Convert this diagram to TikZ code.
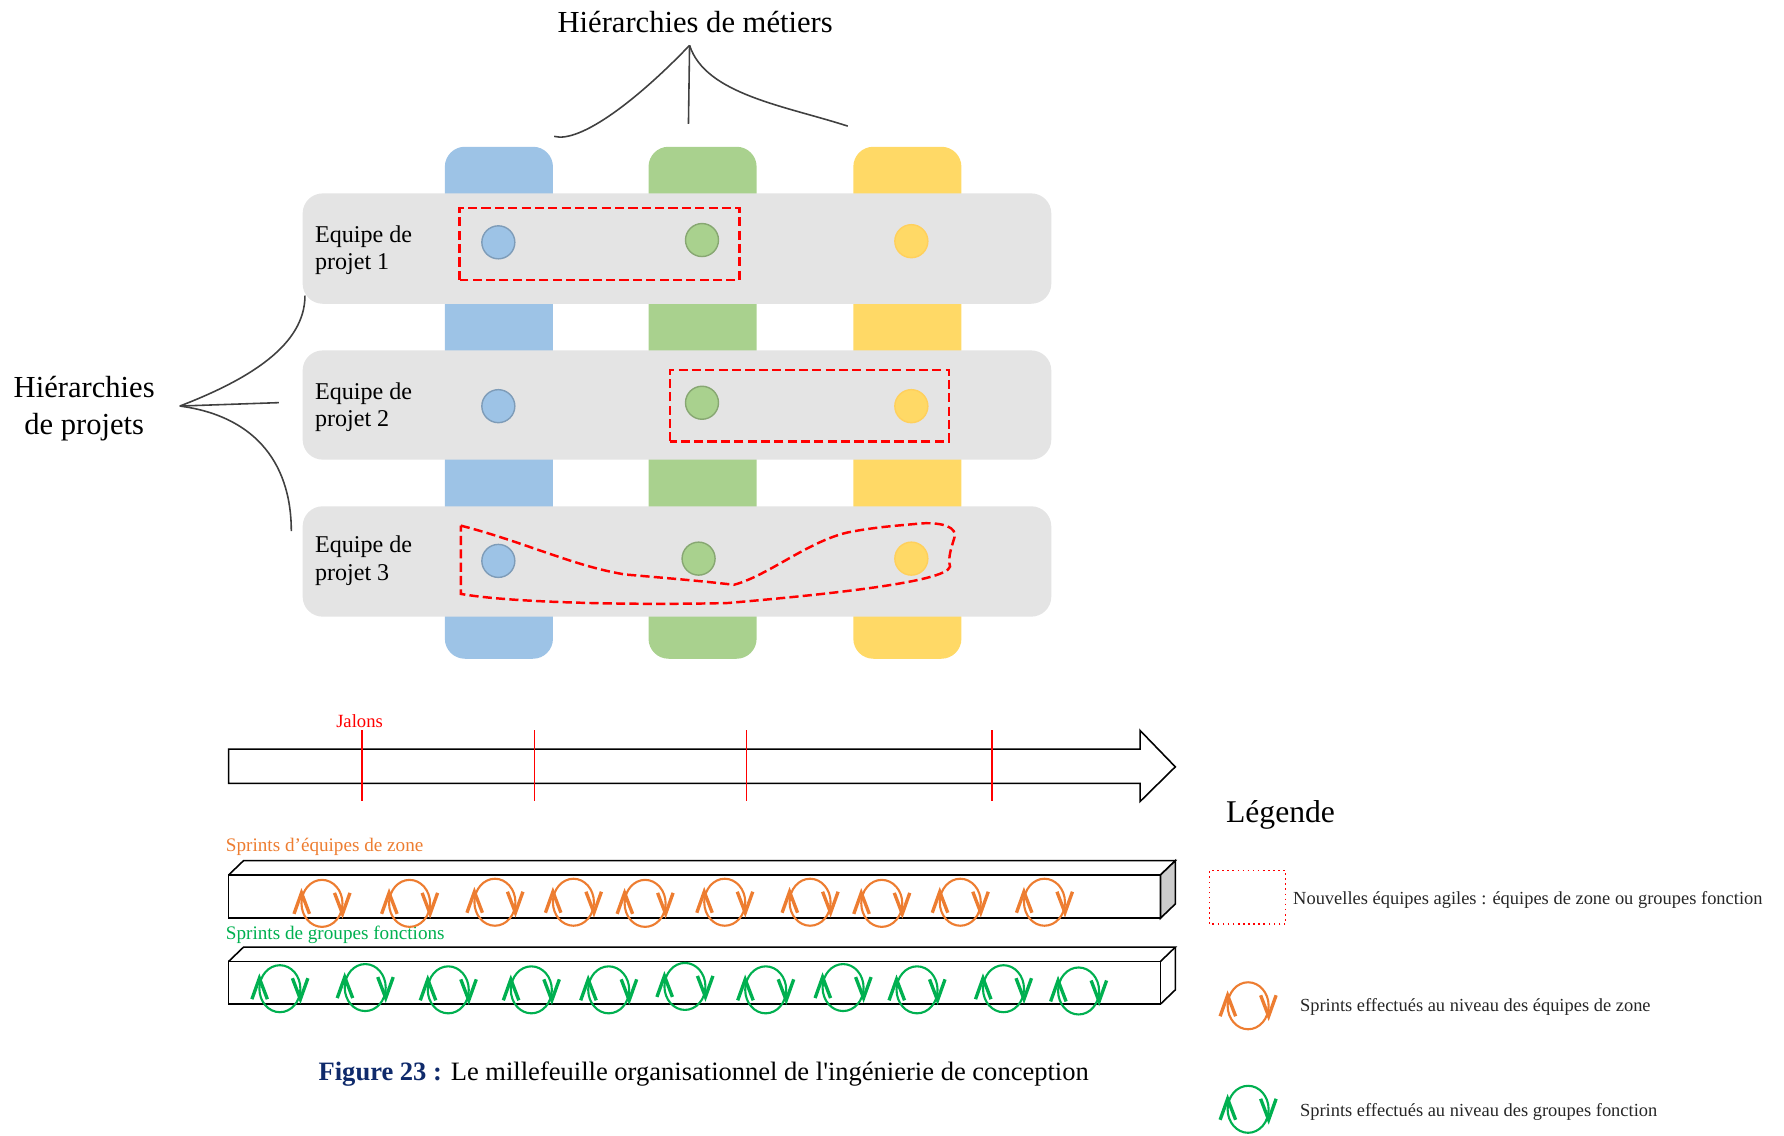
\documentclass[tikz,border=0pt]{standalone}
\usepackage{fontspec}
\setmainfont{Liberation Serif}
\definecolor{colblue}{HTML}{9DC3E6}
\definecolor{colgreen}{HTML}{A9D18E}
\definecolor{colyellow}{HTML}{FFD966}
\definecolor{rowgray}{HTML}{E4E4E4}
\definecolor{sprintorange}{HTML}{ED7D31}
\definecolor{sprintgreen}{HTML}{00B050}
\definecolor{captionblue}{HTML}{0F2A6B}
\tikzset{
  column/.style = {rounded corners = 0.2cm},
  rowband/.style = {fill = rowgray, rounded corners = 0.2cm},
  roundel/.style = {circle, draw, line width = 0.4pt, minimum size = 0.33cm, inner sep = 0pt},
  agile/.style = {red, line width = 0.7pt, dash pattern = on 2.6pt off 1.2pt},
  brace/.style = {black!75, line width = 0.45pt},
  block/.style = {black, line width = 0.45pt},
  rowlabel/.style = {right, align = left, font = \fontsize{6.85}{7.9}\selectfont},
  sprint/.pic = {
    \draw[line width = 0.6pt] (0, 0) ellipse (0.205 and 0.235);
    \draw[line width = 0.95pt] (-0.28, -0.105) -- (-0.205, 0.105) -- (-0.125, -0.105);
    \draw[line width = 0.95pt] (0.125, 0.105) -- (0.205, -0.105) -- (0.28, 0.105);
  }
}
\begin{document}
\begin{tikzpicture} [scale = 1.1378]
\useasboundingbox (0, 0) rectangle (15.68, 9.98);
% columns
\fill[column, colblue] (3.91, 4.19) rectangle (4.86, 8.69);
\fill[column, colgreen] (5.70, 4.19) rectangle (6.65, 8.69);
\fill[column, colyellow] (7.50, 4.19) rectangle (8.45, 8.69);
% rows
\fill[rowband] (2.66, 7.31) rectangle (9.24, 8.28);
\fill[rowband] (2.66, 5.94) rectangle (9.24, 6.90);
\fill[rowband] (2.66, 4.56) rectangle (9.24, 5.53);
\node[rowlabel] (row1) at (2.66, 7.78){Equipe de\\projet 1};
\node[rowlabel] (row2) at (2.66, 6.40){Equipe de\\projet 2};
\node[rowlabel] (row3) at (2.66, 5.05){Equipe de\\projet 3};
\node[roundel, draw = colblue!80!black, fill = colblue] (blue1) at (4.38, 7.85){};
\node[roundel, draw = colgreen!80!black, fill = colgreen] (green1) at (6.17, 7.87){};
\node[roundel, draw = colyellow!90!orange, fill = colyellow] (yellow1) at (8.01, 7.86){};
\node[roundel, draw = colblue!80!black, fill = colblue] (blue2) at (4.38, 6.41){};
\node[roundel, draw = colgreen!80!black, fill = colgreen] (green2) at (6.17, 6.44){};
\node[roundel, draw = colyellow!90!orange, fill = colyellow] (yellow2) at (8.01, 6.41){};
\node[roundel, draw = colblue!80!black, fill = colblue] (blue3) at (4.38, 5.05){};
\node[roundel, draw = colgreen!80!black, fill = colgreen] (green3) at (6.14, 5.07){};
\node[roundel, draw = colyellow!90!orange, fill = colyellow] (yellow3) at (8.01, 5.07){};
% new agile teams
\draw[agile] (4.04, 7.52) rectangle (6.50, 8.15);
\draw[agile] (5.89, 6.10) rectangle (8.34, 6.73);
\draw[agile] (4.05, 5.36) .. controls (4.60, 5.22) and (5.05, 5.00) .. (5.50, 4.93) .. controls (5.85, 4.90) and (6.20, 4.87) .. (6.45, 4.84) .. controls (6.75, 4.92) and (7.10, 5.22) .. (7.45, 5.30) .. controls (7.70, 5.35) and (7.90, 5.36) .. (8.10, 5.38) .. controls (8.30, 5.39) and (8.41, 5.34) .. (8.39, 5.26) .. controls (8.36, 5.16) and (8.33, 5.08) .. (8.35, 5.00) .. controls (8.32, 4.86) and (7.20, 4.75) .. (6.40, 4.68) .. controls (5.60, 4.66) and (4.50, 4.68) .. (4.05, 4.76) -- cycle;
% hierarchies
\node (metiers) at (6.11, 9.79){\fontsize{8.7}{8.7}\selectfont Hiérarchies de métiers};
\coordinate (hubtop) at (6.06, 9.58);
\coordinate (topleft) at (4.87, 8.78);
\coordinate (topmid) at (6.05, 8.89);
\coordinate (topright) at (7.45, 8.87);
\draw[brace] (hubtop) .. controls (5.60, 9.10) and (5.10, 8.72) .. (topleft);
\draw[brace] (hubtop) -- (topmid);
\draw[brace] (hubtop) .. controls (6.20, 9.15) and (6.90, 9.05) .. (topright);
\node[align = center, font = \fontsize{8.7}{10.4}\selectfont] (projets) at (0.74, 6.39){Hiérarchies\\de projets};
\coordinate (hubleft) at (1.58, 6.41);
\coordinate (leftup) at (2.68, 7.38);
\coordinate (leftmid) at (2.45, 6.44);
\coordinate (leftdown) at (2.56, 5.31);
\draw[brace] (hubleft) .. controls (2.20, 6.65) and (2.68, 6.95) .. (leftup);
\draw[brace] (hubleft) -- (leftmid);
\draw[brace] (hubleft) .. controls (2.20, 6.33) and (2.56, 5.95) .. (leftdown);
% milestones
\node[red, font = \fontsize{5.3}{5.3}\selectfont] (jalons) at (3.16, 3.64){Jalons};
\draw[block] (2.01, 3.095) -- (2.01, 3.395) -- (10.02, 3.395) -- (10.02, 3.56) -- (10.33, 3.24) -- (10.02, 2.935) -- (10.02, 3.095) -- cycle;
\draw[red, line width = 0.4pt] (3.18, 2.94) -- (3.18, 3.56);
\draw[red, line width = 0.4pt] (4.70, 2.94) -- (4.70, 3.56);
\draw[red, line width = 0.4pt] (6.56, 2.94) -- (6.56, 3.56);
\draw[red, line width = 0.4pt] (8.72, 2.94) -- (8.72, 3.56);
% sprint blocks
\node[sprintorange, right, inner sep = 0pt, font = \fontsize{5.45}{5.45}\selectfont] (zone) at (1.98, 2.54){Sprints d’équipes de zone};
\draw[block] (2.01, 1.91) rectangle (10.20, 2.29);
\draw[block] (2.01, 2.29) -- (2.14, 2.415) -- (10.33, 2.415) -- (10.20, 2.29);
\draw[block, fill = black!20] (10.20, 1.91) -- (10.33, 2.035) -- (10.33, 2.415) -- (10.20, 2.29) -- cycle;
\node[sprintgreen, right, inner sep = 0pt, font = \fontsize{5.45}{5.45}\selectfont] (groupes) at (1.98, 1.76){Sprints de groupes fonctions};
\draw[block] (2.01, 1.155) rectangle (10.20, 1.53);
\draw[block] (2.01, 1.53) -- (2.14, 1.655) -- (10.33, 1.655) -- (10.20, 1.53);
\draw[block] (10.20, 1.155) -- (10.33, 1.28) -- (10.33, 1.655);
\pic[sprintorange] at (2.83, 2.04) {sprint};
\pic[sprintorange] at (3.60, 2.04) {sprint};
\pic[sprintorange] at (4.35, 2.05) {sprint};
\pic[sprintorange] at (5.04, 2.05) {sprint};
\pic[sprintorange] at (5.67, 2.04) {sprint};
\pic[sprintorange] at (6.37, 2.05) {sprint};
\pic[sprintorange] at (7.12, 2.05) {sprint};
\pic[sprintorange] at (7.75, 2.04) {sprint};
\pic[sprintorange] at (8.44, 2.05) {sprint};
\pic[sprintorange] at (9.18, 2.05) {sprint};
\pic[sprintgreen] at (2.46, 1.29) {sprint};
\pic[sprintgreen] at (3.21, 1.30) {sprint};
\pic[sprintgreen] at (3.94, 1.28) {sprint};
\pic[sprintgreen] at (4.67, 1.28) {sprint};
\pic[sprintgreen] at (5.35, 1.28) {sprint};
\pic[sprintgreen] at (6.02, 1.31) {sprint};
\pic[sprintgreen] at (6.73, 1.28) {sprint};
\pic[sprintgreen] at (7.41, 1.30) {sprint};
\pic[sprintgreen] at (8.06, 1.28) {sprint};
\pic[sprintgreen] at (8.82, 1.29) {sprint};
\pic[sprintgreen] at (9.48, 1.27) {sprint};
% caption
\node[font = \fontsize{7.55}{7.55}\selectfont] (caption) at (6.185, 0.54){\textcolor{captionblue}{\textbf{Figure 23 :}} Le millefeuille organisationnel de l\textquotesingle ingénierie de conception};
% legend
\node[right, inner sep = 0pt, font = \fontsize{9}{9}\selectfont] (legende) at (10.77, 2.82){Légende};
\draw[red, densely dotted, line width = 0.45pt] (10.63, 1.86) rectangle (11.30, 2.33);
\node[right, inner sep = 0pt, black!85, font = \fontsize{5.25}{5.25}\selectfont] (legagile) at (11.36, 2.07){Nouvelles équipes agiles : équipes de zone ou groupes fonction};
\pic[sprintorange] at (10.97, 1.14) {sprint};
\node[right, inner sep = 0pt, black!85, font = \fontsize{5.25}{5.25}\selectfont] (legzone) at (11.42, 1.13){Sprints effectués au niveau des équipes de zone};
\pic[sprintgreen] at (10.97, 0.23) {sprint};
\node[right, inner sep = 0pt, black!85, font = \fontsize{5.25}{5.25}\selectfont] (leggroupes) at (11.42, 0.21){Sprints effectués au niveau des groupes fonction};
\end{tikzpicture}
\end{document}
